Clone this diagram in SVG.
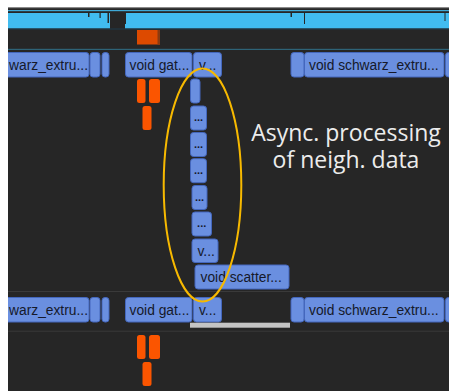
<svg xmlns="http://www.w3.org/2000/svg" width="449" height="391" viewBox="0 0 449 391">
<style>
.bg{fill:#262626}
.box{fill:#6a8fe0;stroke:#4467bd;stroke-width:1}
.lbl{font-family:"Liberation Sans",Arial,sans-serif;font-size:13.8px;fill:#15192a}
.dots{font-family:"Liberation Sans",Arial,sans-serif;font-size:11px;font-weight:bold;fill:#15192a}
.orange{fill:#fb5500}
.cyan{fill:#41bcf0}
.notch{fill:#262626}
.ann{font-family:"Open Sans","Noto Sans",sans-serif;font-size:23px;fill:#ececec;text-anchor:middle}
</style>
<rect x="0" y="0" width="449" height="391" fill="#ffffff"/>
<rect class="bg" x="8" y="8" width="441" height="383"/>
<g id="timeline-top">
<rect x="8" y="7" width="441" height="1.2" fill="#8a8a8a"/>
<rect x="8" y="10" width="441" height="1.2" fill="#3fa9d6"/>
<rect class="cyan" x="8" y="13" width="102" height="15.5"/>
<rect class="cyan" x="125" y="13" width="324" height="15.5"/>
<rect x="8" y="28.5" width="441" height="1" fill="#1f3a4a"/>
<rect class="notch" x="88" y="13" width="1.5" height="4"/>
<rect class="notch" x="99.5" y="13" width="1.2" height="5"/>
<rect class="notch" x="107.5" y="13" width="1.5" height="10"/>
<rect class="notch" x="124.5" y="13" width="1.5" height="11"/>
<rect class="notch" x="290.5" y="13" width="1.5" height="4"/>
<rect class="notch" x="304" y="13" width="1" height="11"/>
<rect class="notch" x="444.5" y="13" width="1" height="8"/>
<rect x="137" y="30" width="23" height="14.5" fill="#dd4a00"/>
<rect x="157.5" y="30" width="2.5" height="14.5" fill="#8a3a10"/>
<rect x="8" y="48.8" width="441" height="1.2" fill="#2e6377"/>
</g>
<g id="row1">
<g id="r1-a"><rect class="box" x="-20" y="52.5" width="109" height="24.5" rx="3"/><text class="lbl" x="9" y="69.5">warz_extru...</text></g>
<g id="r1-b"><rect class="box" x="90" y="52.5" width="10" height="24.5" rx="3"/></g>
<g id="r1-c"><rect class="box" x="102" y="52.5" width="7" height="24.5" rx="3"/></g>
<g id="r1-d"><rect class="box" x="125.5" y="52.5" width="66.5" height="24.5" rx="3"/><text class="lbl" x="129.5" y="69.5">void gat...</text></g>
<g id="r1-e"><rect class="box" x="193.5" y="52.5" width="28" height="24.5" rx="3"/><text class="lbl" x="199" y="69.5">v...</text></g>
<g id="r1-f"><rect class="box" x="291" y="52.5" width="13" height="24.5" rx="3"/></g>
<g id="r1-g"><rect class="box" x="304.5" y="52.5" width="139.5" height="24.5" rx="3"/><text class="lbl" x="309" y="69.5">void schwarz_extru...</text></g>
<g id="r1-h"><rect class="box" x="445.5" y="52.5" width="20" height="24.5" rx="3"/></g>
</g>
<g id="orange1">
<rect class="orange" x="137" y="79" width="8.5" height="24" rx="2.5"/>
<rect class="orange" x="149" y="79" width="11" height="24" rx="2.5"/>
<rect class="orange" x="142.5" y="106" width="9" height="24" rx="2.5"/>
</g>
<g id="column">
<g id="c1"><rect class="box" x="190.5" y="79" width="9.5" height="24" rx="3"/></g>
<g id="c2"><rect class="box" x="190.5" y="106" width="16" height="24" rx="3"/><text class="dots" x="198.5" y="121" text-anchor="middle">...</text></g>
<g id="c3"><rect class="box" x="190.5" y="132.5" width="16" height="24" rx="3"/><text class="dots" x="198.5" y="147.5" text-anchor="middle">...</text></g>
<g id="c4"><rect class="box" x="190.5" y="158.7" width="16" height="24" rx="3"/><text class="dots" x="198.5" y="173.7" text-anchor="middle">...</text></g>
<g id="c5"><rect class="box" x="192" y="185.5" width="15" height="24" rx="3"/><text class="dots" x="199.5" y="200.5" text-anchor="middle">...</text></g>
<g id="c6"><rect class="box" x="192" y="212" width="19.5" height="24" rx="3"/><text class="dots" x="201.7" y="227" text-anchor="middle">...</text></g>
<g id="c7"><rect class="box" x="192" y="239" width="26" height="23.5" rx="3"/><text class="lbl" x="197.5" y="256">v...</text></g>
<g id="c8"><rect class="box" x="195" y="265" width="94" height="24" rx="3"/><text class="lbl" x="200.5" y="282">void scatter...</text></g>
</g>
<rect x="8" y="291" width="441" height="1" fill="#3a3a3a"/>
<g id="row2">
<g id="r2-a"><rect class="box" x="-20" y="297.5" width="109" height="24.5" rx="3"/><text class="lbl" x="9" y="314.5">warz_extru...</text></g>
<g id="r2-b"><rect class="box" x="90" y="297.5" width="10" height="24.5" rx="3"/></g>
<g id="r2-c"><rect class="box" x="102" y="297.5" width="7" height="24.5" rx="3"/></g>
<g id="r2-d"><rect class="box" x="125.5" y="297.5" width="66.5" height="24.5" rx="3"/><text class="lbl" x="129.5" y="314.5">void gat...</text></g>
<g id="r2-e"><rect class="box" x="193.5" y="297.5" width="28" height="24.5" rx="3"/><text class="lbl" x="199" y="314.5">v...</text></g>
<g id="r2-f"><rect class="box" x="291" y="297.5" width="13" height="24.5" rx="3"/></g>
<g id="r2-g"><rect class="box" x="304.5" y="297.5" width="139.5" height="24.5" rx="3"/><text class="lbl" x="309" y="314.5">void schwarz_extru...</text></g>
<g id="r2-h"><rect class="box" x="445.5" y="297.5" width="20" height="24.5" rx="3"/></g>
</g>
<rect x="190" y="322.7" width="100" height="5" fill="#c4c4c4"/>
<rect x="8" y="330.7" width="441" height="1" fill="#3a3a3a"/>
<g id="orange2">
<rect class="orange" x="137" y="335" width="8.5" height="24" rx="2.5"/>
<rect class="orange" x="149" y="335" width="11" height="24" rx="2.5"/>
<rect class="orange" x="142.5" y="362" width="9" height="24" rx="2.5"/>
</g>
<rect x="0" y="0" width="8" height="391" fill="#ffffff"/>
<g id="connectors">
<ellipse cx="202.5" cy="185" rx="38.8" ry="116.5" fill="none" stroke="#f7b900" stroke-width="2"/>
</g>
<g id="annotation">
<text class="ann" x="346" y="141">Async. processing</text>
<text class="ann" x="346" y="167.5">of neigh. data</text>
</g>
</svg>
